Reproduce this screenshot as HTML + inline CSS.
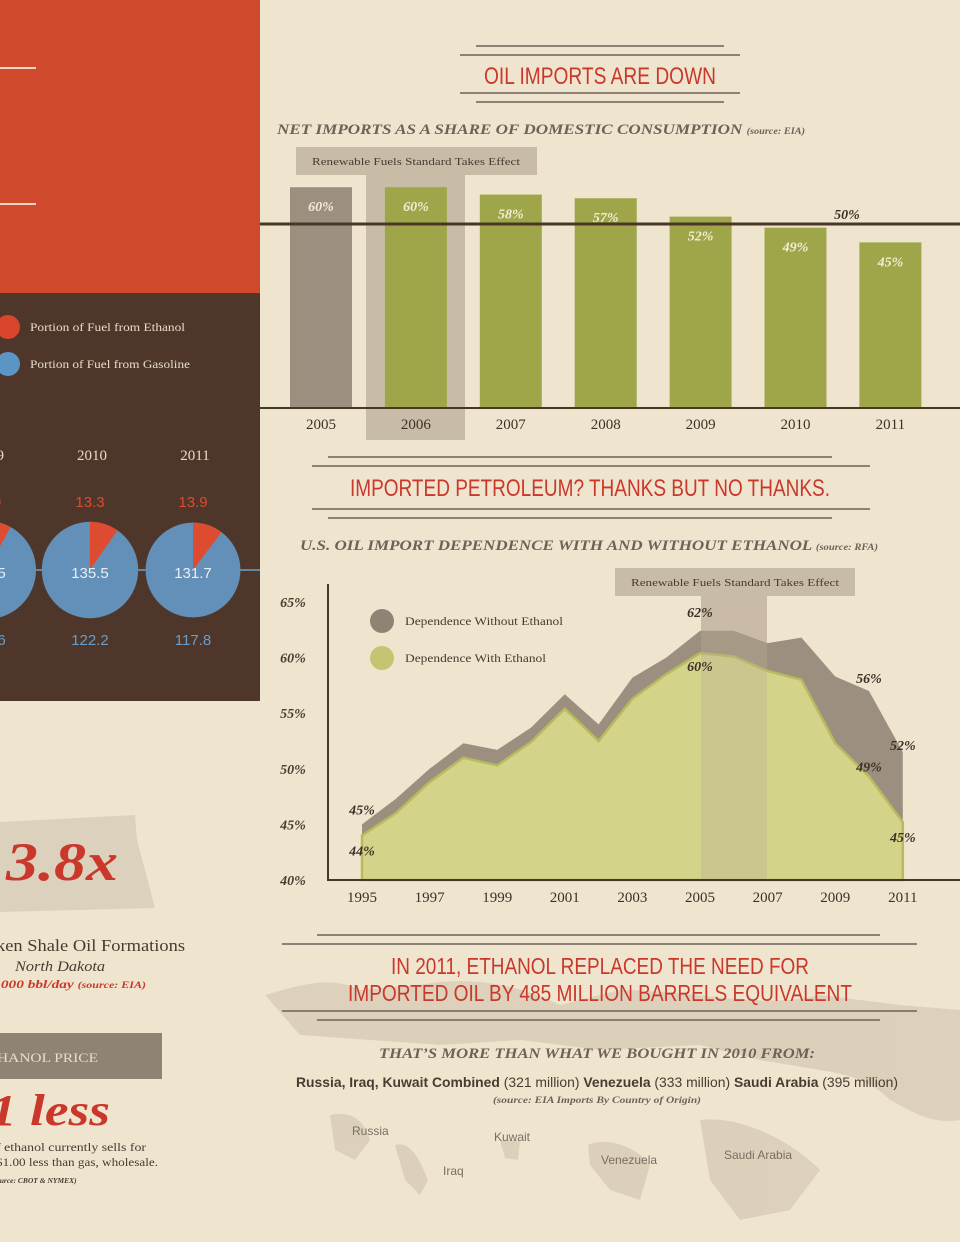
<!DOCTYPE html>
<html><head><meta charset="utf-8"><style>
body{margin:0;background:#efe5cf;}
svg{display:block}
.cond{font-family:"Liberation Sans Narrow","Liberation Sans",sans-serif;}
.ser{font-family:"Liberation Serif",serif;}
</style></head><body>
<svg id="s" width="960" height="1242" viewBox="0 0 960 1242" xmlns="http://www.w3.org/2000/svg">
<rect width="960" height="1242" fill="#efe5cf"/>
<rect x="0" y="0" width="260" height="293" fill="#cf4a2c"/>
<rect x="0" y="67" width="36" height="2" fill="#f0d8c8"/><rect x="0" y="203" width="36" height="2" fill="#f0d8c8"/>
<rect x="0" y="293" width="260" height="408" fill="#4e372a"/>
<circle cx="8" cy="327" r="12" fill="#d9452c"/>
<circle cx="8" cy="364" r="12" fill="#5b95c6"/>
<text x="30" y="331" class="ser" font-size="12" fill="#e8dcc8" textLength="155" lengthAdjust="spacingAndGlyphs">Portion of Fuel from Ethanol</text>
<text x="30" y="368" class="ser" font-size="12" fill="#e8dcc8" textLength="160" lengthAdjust="spacingAndGlyphs">Portion of Fuel from Gasoline</text>
<g id="pies"></g>
<polygon points="0,822 135,815 137,840 155,908 0,912" fill="#dcd1bd"/>
<text x="6" y="880" class="ser" font-size="54" font-style="italic" font-weight="bold" fill="#c9382a" textLength="112" lengthAdjust="spacingAndGlyphs">3.8x</text>
<text x="-4" y="951" class="ser" font-size="17" fill="#4a3a30" textLength="189" lengthAdjust="spacingAndGlyphs">ken Shale Oil Formations</text>
<text x="15" y="971" class="ser" font-size="15" font-style="italic" fill="#4a3a30" textLength="90" lengthAdjust="spacingAndGlyphs">North Dakota</text>
<text x="-3" y="988" class="ser" font-size="11.5" font-style="italic" font-weight="bold" fill="#c9382a" textLength="149" lengthAdjust="spacingAndGlyphs">,000 bbl/day <tspan font-size="9">(source: EIA)</tspan></text>
<rect x="0" y="1033" width="162" height="46" fill="#8f8374"/>
<text x="-3" y="1062" class="ser" font-size="13" fill="#e8dccb" textLength="101" lengthAdjust="spacingAndGlyphs">HANOL PRICE</text>
<text x="-10" y="1125" class="ser" font-size="44" font-style="italic" font-weight="bold" fill="#c9382a" textLength="120" lengthAdjust="spacingAndGlyphs">1 less</text>
<text x="-4" y="1151" class="ser" font-size="12" fill="#4a3a30" textLength="150" lengthAdjust="spacingAndGlyphs">f ethanol currently sells for</text>
<text x="-4" y="1166" class="ser" font-size="12" fill="#4a3a30" textLength="162" lengthAdjust="spacingAndGlyphs">$1.00 less than gas, wholesale.</text>
<text x="-4" y="1183" class="ser" font-size="7.5" font-style="italic" font-weight="bold" fill="#4a3a30">ource: CBOT &amp; NYMEX)</text>
<g fill="#d8ccb6" opacity="0.8">
<path d="M265,995 C300,985 330,975 360,990 L420,985 C470,975 520,985 560,1005 L620,990 C700,990 760,1010 820,995 L900,1005 L960,1010 L960,1120 C930,1125 910,1110 890,1100 C870,1080 850,1075 820,1070 L760,1060 L700,1045 L600,1050 L520,1040 L440,1045 L370,1040 L300,1035 Z"/>
<path d="M330,1115 C350,1110 365,1120 370,1140 L355,1160 L335,1150 Z"/>
<path d="M395,1145 C410,1140 420,1160 428,1180 L420,1195 L405,1180 Z"/>
<path d="M500,1140 L520,1140 L518,1160 L505,1158 Z"/>
<path d="M588,1145 C610,1135 640,1150 650,1165 L640,1200 L610,1190 L590,1165 Z"/>
<path d="M700,1120 C740,1115 790,1140 820,1170 L790,1210 L740,1220 L710,1180 Z"/>
</g>
<g stroke="#6e6258" stroke-width="1.5">
<line x1="476" y1="46" x2="724" y2="46"/><line x1="460" y1="55" x2="740" y2="55"/>
<line x1="460" y1="93" x2="740" y2="93"/><line x1="476" y1="102" x2="724" y2="102"/></g>
<text x="600" y="84" text-anchor="middle" class="cond" font-size="24" fill="#c9382a" textLength="232" lengthAdjust="spacingAndGlyphs">OIL IMPORTS ARE DOWN</text>
<text x="277" y="134" class="ser" font-size="15" font-style="italic" font-weight="bold" fill="#6e6258" textLength="528" lengthAdjust="spacingAndGlyphs">NET IMPORTS AS A SHARE OF DOMESTIC CONSUMPTION <tspan font-size="9">(source: EIA)</tspan></text>
<rect x="296" y="147" width="241" height="28" fill="#c9bca6"/>
<rect x="366" y="175" width="99" height="265" fill="#c9bca6"/>
<text x="416" y="165" text-anchor="middle" class="ser" font-size="11" fill="#4a3a30" textLength="208" lengthAdjust="spacingAndGlyphs">Renewable Fuels Standard Takes Effect</text>
<g id="bars"></g>
<g stroke="#6e6258" stroke-width="1.5">
<line x1="328" y1="457" x2="832" y2="457"/><line x1="312" y1="466" x2="870" y2="466"/>
<line x1="312" y1="509" x2="870" y2="509"/><line x1="328" y1="518" x2="832" y2="518"/></g>
<text x="590" y="496" text-anchor="middle" class="cond" font-size="24" fill="#c9382a" textLength="480" lengthAdjust="spacingAndGlyphs">IMPORTED PETROLEUM? THANKS BUT NO THANKS.</text>
<text x="300" y="550" class="ser" font-size="14.5" font-style="italic" font-weight="bold" fill="#6e6258" textLength="578" lengthAdjust="spacingAndGlyphs">U.S. OIL IMPORT DEPENDENCE WITH AND WITHOUT ETHANOL <tspan font-size="9">(source: RFA)</tspan></text>
<rect x="615" y="568" width="240" height="28" fill="#c9bca6"/>
<rect x="701" y="596" width="66" height="284" fill="#c9bca6" opacity="0.8"/>
<text x="735" y="586" text-anchor="middle" class="ser" font-size="11" fill="#4a3a30" textLength="208" lengthAdjust="spacingAndGlyphs">Renewable Fuels Standard Takes Effect</text>
<g id="area"></g>
<circle cx="382" cy="621" r="12" fill="#8f8374"/><circle cx="382" cy="658" r="12" fill="#c3c570"/>
<text x="405" y="625" class="ser" font-size="11.5" fill="#4a3a30" textLength="158" lengthAdjust="spacingAndGlyphs">Dependence Without Ethanol</text>
<text x="405" y="662" class="ser" font-size="11.5" fill="#4a3a30" textLength="141" lengthAdjust="spacingAndGlyphs">Dependence With Ethanol</text>
<g stroke="#6e6258" stroke-width="1.5"><line x1="317" y1="935" x2="880" y2="935"/><line x1="282" y1="944" x2="917" y2="944"/>
<line x1="282" y1="1011" x2="917" y2="1011"/><line x1="317" y1="1020" x2="880" y2="1020"/></g>
<text x="600" y="974" text-anchor="middle" class="cond" font-size="23" fill="#c9382a" textLength="418" lengthAdjust="spacingAndGlyphs">IN 2011, ETHANOL REPLACED THE NEED FOR</text>
<text x="600" y="1001" text-anchor="middle" class="cond" font-size="23" fill="#c9382a" textLength="504" lengthAdjust="spacingAndGlyphs">IMPORTED OIL BY 485 MILLION BARRELS EQUIVALENT</text>
<text x="597" y="1058" text-anchor="middle" class="ser" font-size="14.5" font-style="italic" font-weight="bold" fill="#6e6258" textLength="436" lengthAdjust="spacingAndGlyphs">THAT’S MORE THAN WHAT WE BOUGHT IN 2010 FROM:</text>
<text x="597" y="1087" text-anchor="middle" class="cond" font-size="14" fill="#4a3a30" textLength="602" lengthAdjust="spacingAndGlyphs"><tspan font-weight="bold">Russia, Iraq, Kuwait Combined</tspan> (321 million)   <tspan font-weight="bold">Venezuela</tspan> (333 million)   <tspan font-weight="bold">Saudi Arabia</tspan> (395 million)</text>
<text x="597" y="1103" text-anchor="middle" class="ser" font-size="9" font-style="italic" font-weight="bold" fill="#6e6258" textLength="208" lengthAdjust="spacingAndGlyphs">(source: EIA Imports By Country of Origin)</text>
<g class="cond" font-size="12" fill="#7a6e62">
<text x="352" y="1135">Russia</text><text x="494" y="1141">Kuwait</text><text x="443" y="1175">Iraq</text>
<text x="601" y="1164">Venezuela</text><text x="724" y="1159">Saudi Arabia</text></g>
</svg>
<script>
const NS="http://www.w3.org/2000/svg";
const barYears=["2005","2006","2007","2008","2009","2010","2011"];
const barValues=[60,60,58,57,52,49,45];
const refValue=50;
const areaYears=[1995,1996,1997,1998,1999,2000,2001,2002,2003,2004,2005,2006,2007,2008,2009,2010,2011];
const withoutEthanol=[45,47.3,50,52.3,51.7,53.7,56.7,54,58.2,60,62.4,62.4,61.3,61.8,58.3,57,51.5];
const withEthanol=[44,46,48.8,51,50.3,52.4,55.4,52.5,56.3,58.5,60.4,60.1,58.8,58,52.3,49.3,45.2];
const labelIdx=[0,10,15,16];
const withoutLabels=["45%","62%","56%","52%"];
const withLabels=["44%","60%","49%","45%"];
const yTicks=[40,45,50,55,60,65];
const xTickYears=[1995,1997,1999,2001,2003,2005,2007,2009,2011];
const pieYears=["2009","2010","2011"];
const pieTotals=[137.5,135.5,131.7];
const pieEthanol=[11.0,13.3,13.9];
const pieGasoline=[126.6,122.2,117.8];

function mk(tag,attrs,parent,txt){const e=document.createElementNS(NS,tag);for(const k in attrs)e.setAttribute(k,attrs[k]);if(txt!==undefined)e.textContent=txt;parent.appendChild(e);return e;}

const bars=document.getElementById('bars');
const bY=v=>408-v*3.68, bX=i=>321+i*94.9;
barValues.forEach((v,i)=>{
  const r=mk('rect',{x:bX(i)-31,y:bY(v),width:62,height:408-bY(v),fill:i===0?'#9c8f7f':'#9fa64a'},bars);
  
  
});
const ref=mk('line',{x1:260,x2:960,y1:bY(refValue),y2:bY(refValue),stroke:'#4a3626','stroke-width':3},bars);


mk('text',{x:847,y:bY(refValue)-5,'text-anchor':'middle','class':'ser','font-size':14,'font-style':'italic','font-weight':'bold',fill:'#3e3028'},bars,refValue+'%');
barValues.forEach((v,i)=>{
  mk('text',{x:bX(i),y:bY(v)+24,'text-anchor':'middle','class':'ser','font-size':14,'font-style':'italic','font-weight':'bold',fill:'#f3ecd8'},bars,v+'%');
  const t=mk('text',{x:bX(i),y:429,'text-anchor':'middle','class':'ser','font-size':15,fill:'#3e3028'},bars,barYears[i]);
  
  
});
mk('line',{x1:260,x2:960,y1:408,y2:408,stroke:'#4a3626','stroke-width':2},bars);

const area=document.getElementById('area');
const aX=y=>362+(y-1995)*33.8, aY=v=>880-(v-40)*11.12;
function poly(vals){let d='M'+aX(areaYears[0])+','+aY(40);vals.forEach((v,i)=>d+=' L'+aX(areaYears[i])+','+aY(v));return d+' L'+aX(areaYears[areaYears.length-1])+','+aY(40)+' Z';}
const p1=mk('path',{d:poly(withoutEthanol),fill:'#9c8f7f'},area);


const p2=mk('path',{d:poly(withEthanol),fill:'#d3d48a',stroke:'#b7bb5c','stroke-width':2.5},area);


mk('rect',{x:701,y:596,width:66,height:284,fill:'#b9ad96',opacity:0.35},area);
mk('polyline',{points:'328,584 328,880 960,880',fill:'none',stroke:'#4a3626','stroke-width':2},area);
yTicks.forEach(v=>{const t=mk('text',{x:293,y:aY(v)+5,'text-anchor':'middle','class':'ser','font-size':14,'font-style':'italic','font-weight':'bold',fill:'#4a3a30'},area,v+'%');
  
  });
xTickYears.forEach(y=>{const t=mk('text',{x:aX(y),y:902,'text-anchor':'middle','class':'ser','font-size':15,fill:'#3e3028'},area,String(y));
  
  });
function lab(i,v,txt,dy){mk('text',{x:aX(areaYears[i]),y:aY(v)+dy,'text-anchor':'middle','class':'ser','font-size':14,'font-style':'italic','font-weight':'bold',fill:'#3e3028'},area,txt);}
const dyWithout=[-10,-14,-8,-2], dyWith=[20,18,-5,20];
labelIdx.forEach((idx,k)=>{lab(idx,withoutEthanol[idx],withoutLabels[k],dyWithout[k]);lab(idx,withEthanol[idx],withLabels[k],dyWith[k]);});

const pies=document.getElementById('pies');
const pX=i=>-13+i*103;
mk('line',{x1:0,x2:260,y1:570,y2:570,stroke:'#6aa0cc','stroke-width':1.5},pies);
pieYears.forEach((yr,i)=>{
  const cx=pX(i),cy=570,r=49-i*0.8;
  const c=mk('circle',{cx,cy,r,fill:'#6390b8'},pies);
  
  
  const a=pieEthanol[i]/pieTotals[i]*2*Math.PI*0.9+0.05;
  const w=mk('path',{d:`M${cx},${cy} L${cx},${cy-r} A${r},${r} 0 0 1 ${cx+r*Math.sin(a)},${cy-r*Math.cos(a)} Z`,fill:'#dd4b30'},pies);
  
  
  mk('text',{x:cx+2,y:460,'text-anchor':'middle','class':'ser','font-size':15,fill:'#e8dcc8'},pies,yr);
  mk('text',{x:cx,y:507,'text-anchor':'middle','class':'cond','font-size':15,fill:'#dd4b30'},pies,pieEthanol[i].toFixed(1));
  mk('text',{x:cx,y:578,'text-anchor':'middle','class':'cond','font-size':15,fill:'#e8eef4'},pies,pieTotals[i].toFixed(1));
  mk('text',{x:cx,y:645,'text-anchor':'middle','class':'cond','font-size':15,fill:'#6a9cc8'},pies,pieGasoline[i].toFixed(1));
});
</script>
</body></html>
